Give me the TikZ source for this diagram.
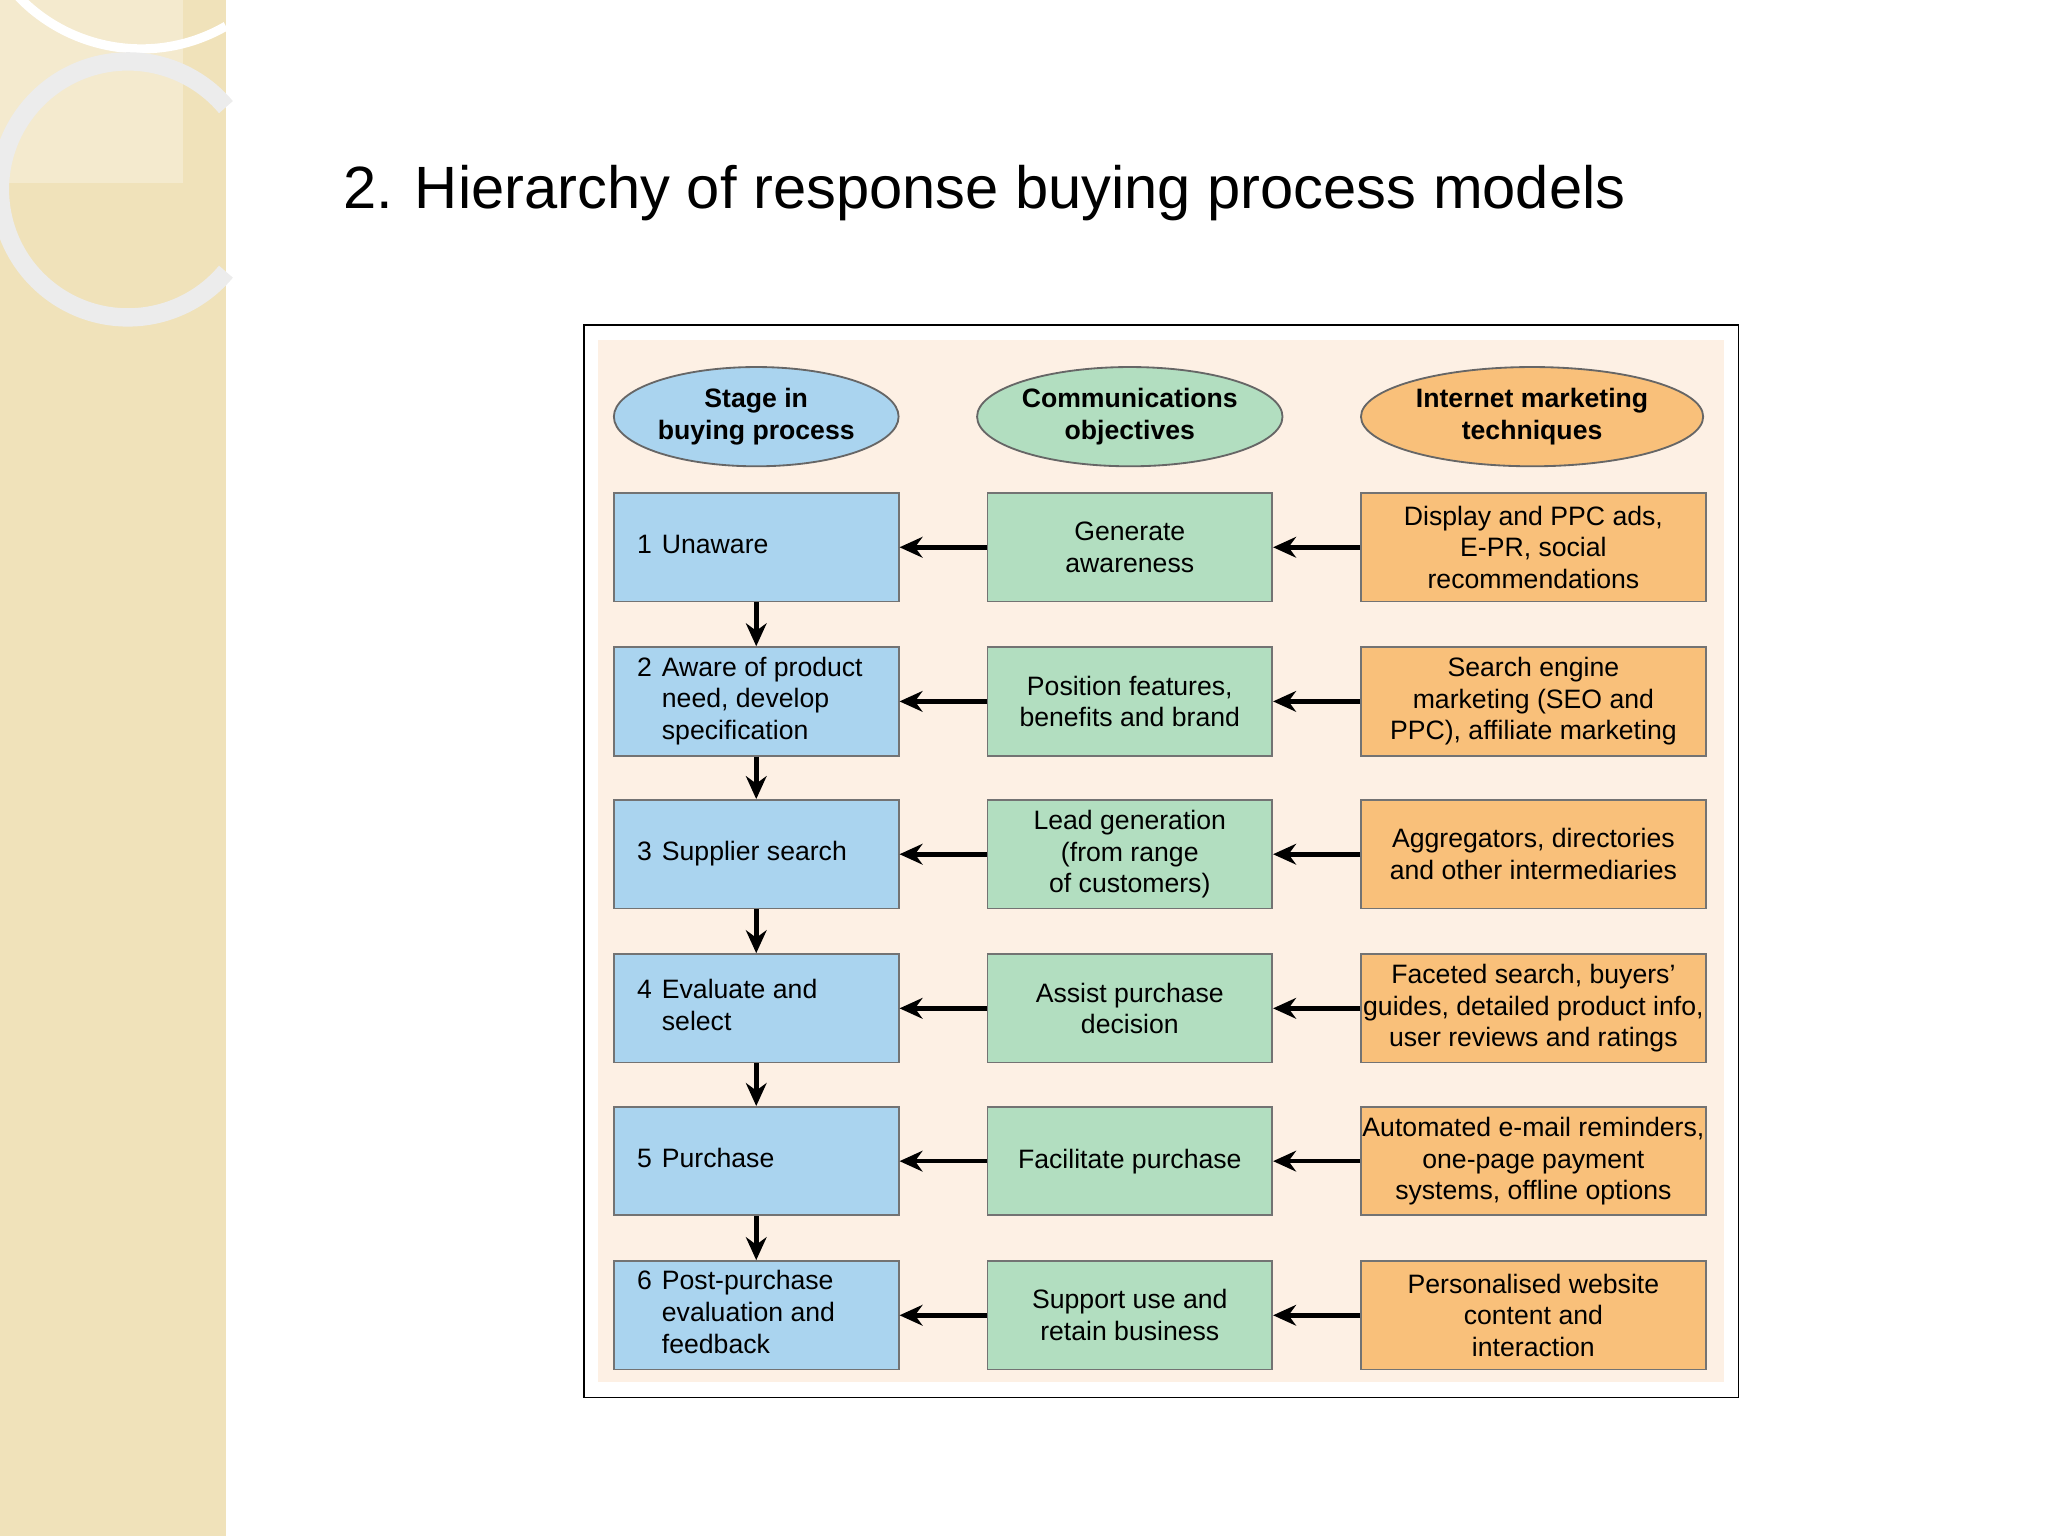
\documentclass[tikz,border=0pt]{standalone}
\usepackage{fontspec}
\setmainfont{Liberation Sans}
\usetikzlibrary{arrows.meta,shapes.geometric}
\definecolor{strip}{RGB}{240,226,186}
\definecolor{peach}{RGB}{253,240,228}
\definecolor{stageblue}{RGB}{170,212,239}
\definecolor{objgreen}{RGB}{178,222,192}
\definecolor{techorange}{RGB}{249,192,122}
\tikzset{
  box/.style={draw=black!55, minimum height=8.3mm, inner sep=0pt, align=center},
  head/.style={ellipse, draw=black!60, minimum height=7.6mm, inner sep=0pt, align=center, font=\fontsize{5.8}{6.9}\selectfont\bfseries},
  link/.style={-{Stealth[length=5pt,width=4.5pt]}, line width=1pt}
}
\begin{document}
\begin{tikzpicture}[x=0.1mm,y=-0.1mm,font=\fontsize{5.8}{6.9}\selectfont]
    \useasboundingbox (0,0) rectangle (1568,1176);
    \fill [strip] (0,0) rectangle (173,1176); % left strip
    \fill [white,opacity=0.3] (0,0) rectangle (140,140);
    \draw [white,line width=2pt] (173,20) arc (60:270:130 and 130); % decor arcs
    \draw [white!85!gray,line width=4pt] (173,208) arc (40:320:98 and 98);
    \node [anchor=base west,font=\fontsize{13}{15}\selectfont,inner sep=0pt] at (262,160) {2. Hierarchy of response buying process models};
    \draw [black, thin] (447,249) rectangle (1331,1070); % frame
    \fill [peach] (458,260) rectangle (1320,1058);

    \node [head, fill=stageblue, minimum width=21.8mm] (hStage) at (579,319) {Stage in\\buying process};
    \node [head, fill=objgreen, minimum width=21.8mm] (hObj) at (865,319) {Communications\\objectives};
    \node [head, fill=techorange, minimum width=26.2mm] (hTech) at (1173,319) {Internet marketing\\techniques};

    \foreach \i/\y/\stage/\obj/\tech in {
      1/419/{1 & Unaware}/{Generate\\awareness}/{Display and PPC ads,\\E-PR, social\\recommendations},
      2/537/{2 & Aware of product\\ & need, develop\\ & specification}/{Position features,\\benefits and brand}/{Search engine\\marketing (SEO and\\PPC), affiliate marketing},
      3/654/{3 & Supplier search}/{Lead generation\\(from range\\of customers)}/{Aggregators, directories\\and other intermediaries},
      4/772/{4 & Evaluate and\\ & select}/{Assist purchase\\decision}/{Faceted search, buyers'\\guides, detailed product info,\\user reviews and ratings},
      5/889/{5 & Purchase}/{Facilitate purchase}/{Automated e-mail reminders,\\one-page payment\\systems, offline options},
      6/1007/{6 & Post-purchase\\ & evaluation and\\ & feedback}/{Support use and\\retain business}/{Personalised website\\content and\\interaction}}
    {
      \node [box, fill=stageblue, minimum width=21.8mm] (stage\i) at (579,\y) {};
      \node [anchor=west, inner sep=0pt] at (487,\y) {\begin{tabular}{@{}l@{\hspace{2.2pt}}l@{}}\stage\end{tabular}};
      \node [box, fill=objgreen, minimum width=21.8mm] (obj\i) at (865,\y) {\obj};
      \node [box, fill=techorange, minimum width=26.4mm] (tech\i) at (1174,\y) {\tech};
      \draw [link] (tech\i) -- (obj\i);
      \draw [link] (obj\i) -- (stage\i);
    }
    \foreach \a/\b in {1/2,2/3,3/4,4/5,5/6}
      \draw [link] (stage\a) -- (stage\b);
\end{tikzpicture}
\end{document}
